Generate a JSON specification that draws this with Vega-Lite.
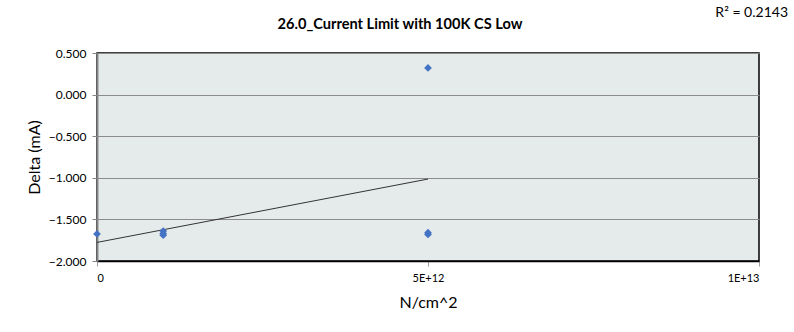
{
  "$schema": "https://vega.github.io/schema/vega-lite/v6.json",
  "autosize": {"type": "none"},
  "width": 662,
  "height": 208,
  "padding": {"left": 97, "top": 53, "right": 35, "bottom": 71},
  "background": "white",
  "config": {
    "font": "Lato",
    "view": {"fill": "#E5EBEB", "stroke": "#000000", "strokeWidth": 1.5}
  },
  "datasets": {
    "points": [
      {"x": 0, "y": -1.675},
      {"x": 1e12, "y": -1.64},
      {"x": 1e12, "y": -1.67},
      {"x": 1e12, "y": -1.69},
      {"x": 5e12, "y": 0.32},
      {"x": 5e12, "y": -1.66},
      {"x": 5e12, "y": -1.68}
    ],
    "note": [{"label": "R² = 0.2143"}],
    "heading": [{"label": "26.0_Current Limit with 100K CS Low"}]
  },
  "layer": [
    {
      "data": {"name": "points"},
      "transform": [{"regression": "y", "on": "x"}],
      "mark": {"type": "line", "color": "#333333", "strokeWidth": 1},
      "encoding": {
        "x": {
          "field": "x",
          "type": "quantitative",
          "scale": {"domain": [0, 1e13], "nice": false, "zero": false},
          "axis": {
            "title": "N/cm^2",
            "titleFont": "Lato",
            "titleFontSize": 16,
            "titleFontWeight": "normal",
            "titleColor": "#000000",
            "titlePadding": 11,
            "values": [0, 5e12, 1e13],
            "labelExpr": "datum.value == 0 ? '0' : (datum.value == 5e12 ? '5E+12' : '1E+13')",
            "labelFontSize": 11,
            "labelColor": "#000000",
            "labelPadding": 6,
            "tickColor": "#A0A0A0",
            "tickSize": 5,
            "domainColor": "#000000",
            "domainWidth": 1.5,
            "grid": false
          }
        },
        "y": {
          "field": "y",
          "type": "quantitative",
          "scale": {"domain": [-2, 0.5], "nice": false, "zero": false},
          "axis": {
            "title": "Delta (mA)",
            "titleFont": "Lato",
            "titleFontSize": 16,
            "titleFontWeight": "normal",
            "titleColor": "#000000",
            "titlePadding": 6,
            "values": [-2, -1.5, -1, -0.5, 0, 0.5],
            "format": ".3f",
            "labelFontSize": 12,
            "labelColor": "#000000",
            "labelPadding": 6,
            "tickColor": "#868686",
            "tickSize": 5,
            "domainColor": "#868686",
            "domainWidth": 2,
            "grid": true,
            "gridColor": "#8C8C8C",
            "gridWidth": 1
          }
        }
      }
    },
    {
      "data": {"name": "points"},
      "mark": {"type": "point", "shape": "diamond", "filled": true, "color": "#4472C4", "opacity": 1, "size": 60},
      "encoding": {
        "x": {"field": "x", "type": "quantitative"},
        "y": {"field": "y", "type": "quantitative"}
      }
    },
    {
      "data": {"name": "note"},
      "mark": {"type": "text", "align": "right", "baseline": "middle", "dx": 29, "dy": -40, "fontSize": 14, "font": "Lato", "color": "#000000"},
      "encoding": {
        "x": {"datum": 1e13, "type": "quantitative"},
        "y": {"datum": 0.5, "type": "quantitative"},
        "text": {"field": "label"}
      }
    },
    {
      "data": {"name": "heading"},
      "mark": {"type": "text", "align": "center", "baseline": "middle", "dx": -28, "dy": -28, "fontSize": 14.6, "fontWeight": "bold", "font": "Lato", "color": "#000000"},
      "encoding": {
        "x": {"datum": 5e12, "type": "quantitative"},
        "y": {"datum": 0.5, "type": "quantitative"},
        "text": {"field": "label"}
      }
    }
  ]
}
